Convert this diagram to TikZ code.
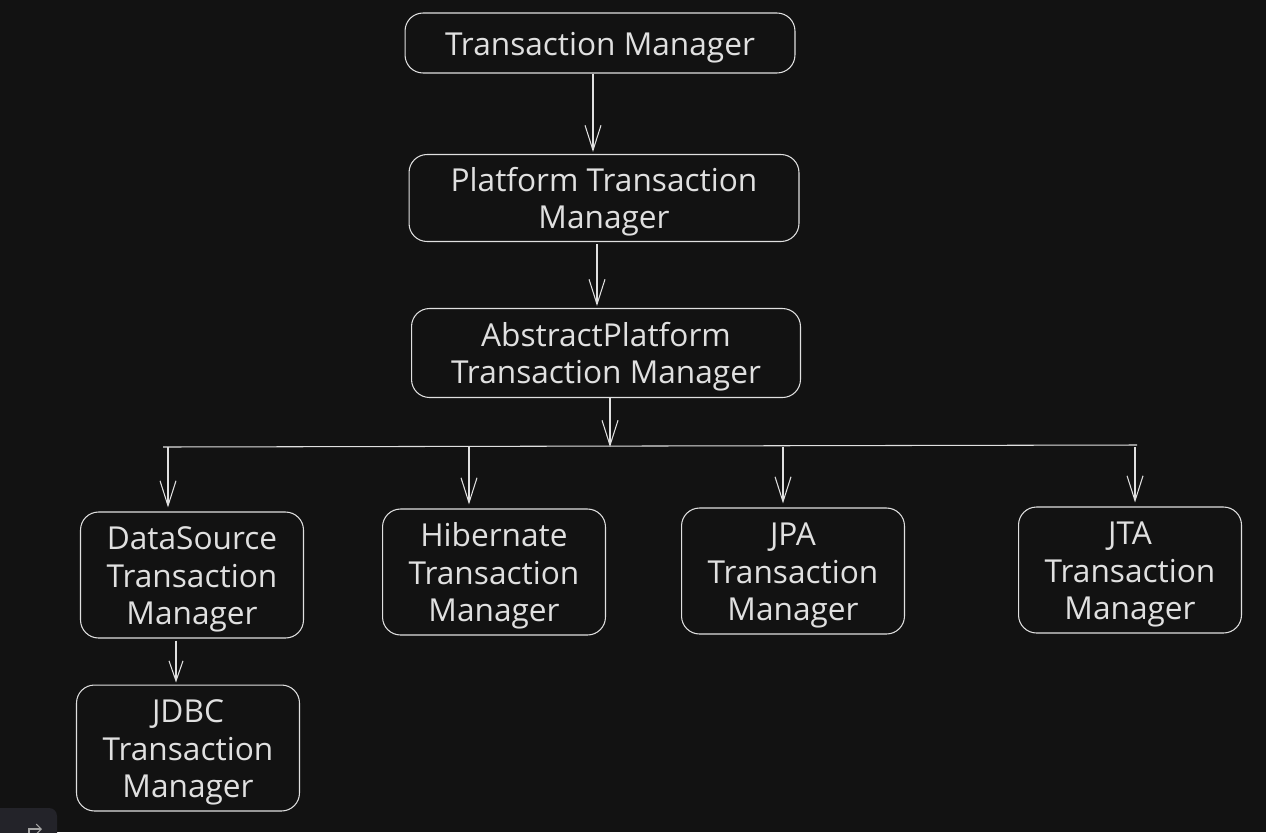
\documentclass[tikz,border=0pt]{standalone}
\usepackage{fontspec}
\setmainfont{Open Sans}
\usetikzlibrary{calc,arrows.meta,positioning}
\definecolor{bg}{RGB}{18,18,18}
\definecolor{ink}{RGB}{224,224,224}
\definecolor{panel}{RGB}{35,35,41}
\newcommand{\topstrut}{\rule{0pt}{18pt}}

\begin{document}
\begin{tikzpicture}[x=0.02cm,y=-0.02cm]

\tikzset{box/.style={draw=ink,text=ink,rounded corners=0.36cm,font=\fontsize{18}{21.6}\selectfont,align=center,inner sep=0pt,line width=0.6pt},
leafbox/.style={box,minimum width=4.46cm,minimum height=2.52cm},
arr/.style={draw=ink,line width=0.6pt,-{Straight Barb[length=0.5cm,width=0.32cm]}},
smallarr/.style={draw=ink,line width=0.6pt,-{Straight Barb[length=0.4cm,width=0.28cm]}}}

% Background
\fill[bg] (0,0) rectangle (1266,832);
\useasboundingbox (0,0) rectangle (1266,832);

% Upper chain
\node[box,minimum width=7.8cm,minimum height=1.2cm] (tm) at (600,43) {\topstrut Transaction Manager};
\node[box,minimum width=7.8cm,minimum height=1.74cm] (ptm) at (604,198) {\topstrut Platform Transaction\\Manager};
\node[box,minimum width=7.78cm,minimum height=1.78cm] (aptm) at (606,353) {\topstrut AbstractPlatform\\Transaction Manager};

% Implementations
\node[leafbox] (ds) at (192,575) {\topstrut DataSource\\Transaction\\Manager};
\node[leafbox] (hib) at (494,572) {\topstrut Hibernate\\Transaction\\Manager};
\node[leafbox] (jpa) at (793,571) {\topstrut JPA\\Transaction\\Manager};
\node[leafbox] (jta) at (1130,570) {\topstrut JTA\\Transaction\\Manager};
\node[leafbox] (jdbc) at (188,748) {\topstrut JDBC\\Transaction\\Manager};

% Edges
\draw[arr] ($(tm.south)+(-7,0)$) -- ($(ptm.north)+(-11,-2)$);
\draw[arr] ($(ptm.south)+(-7,2)$) -- ($(aptm.north)+(-9,-2)$);

% Bus
\coordinate (bus) at ($(aptm.south)+(4,49)$);
\coordinate (busL) at (163,447);
\coordinate (busR) at (1137,445);
\draw[arr] ($(aptm.south)+(4,0)$) -- (bus);
\draw[draw=ink,line width=0.6pt] (busL) -- (busR);
\foreach \n/\dx in {ds/-24,hib/-25,jpa/-10,jta/5} \draw[arr] ($(\n.north |- bus)+(\dx,0)$) -- ($(\n.north)+(\dx,-4)$);

\draw[smallarr] ($(ds.south)+(-16,2)$) -- ($(jdbc.north)+(-12,-2)$);

% Corner panel
\fill[panel,rounded corners=0.16cm] (-10,808) rectangle (57,850);
\draw[draw=gray!70,line width=0.6pt,-{Straight Barb[length=0.1cm]}] (29,836) -- (29,829) -- (42,829);

\end{tikzpicture}
\end{document}
